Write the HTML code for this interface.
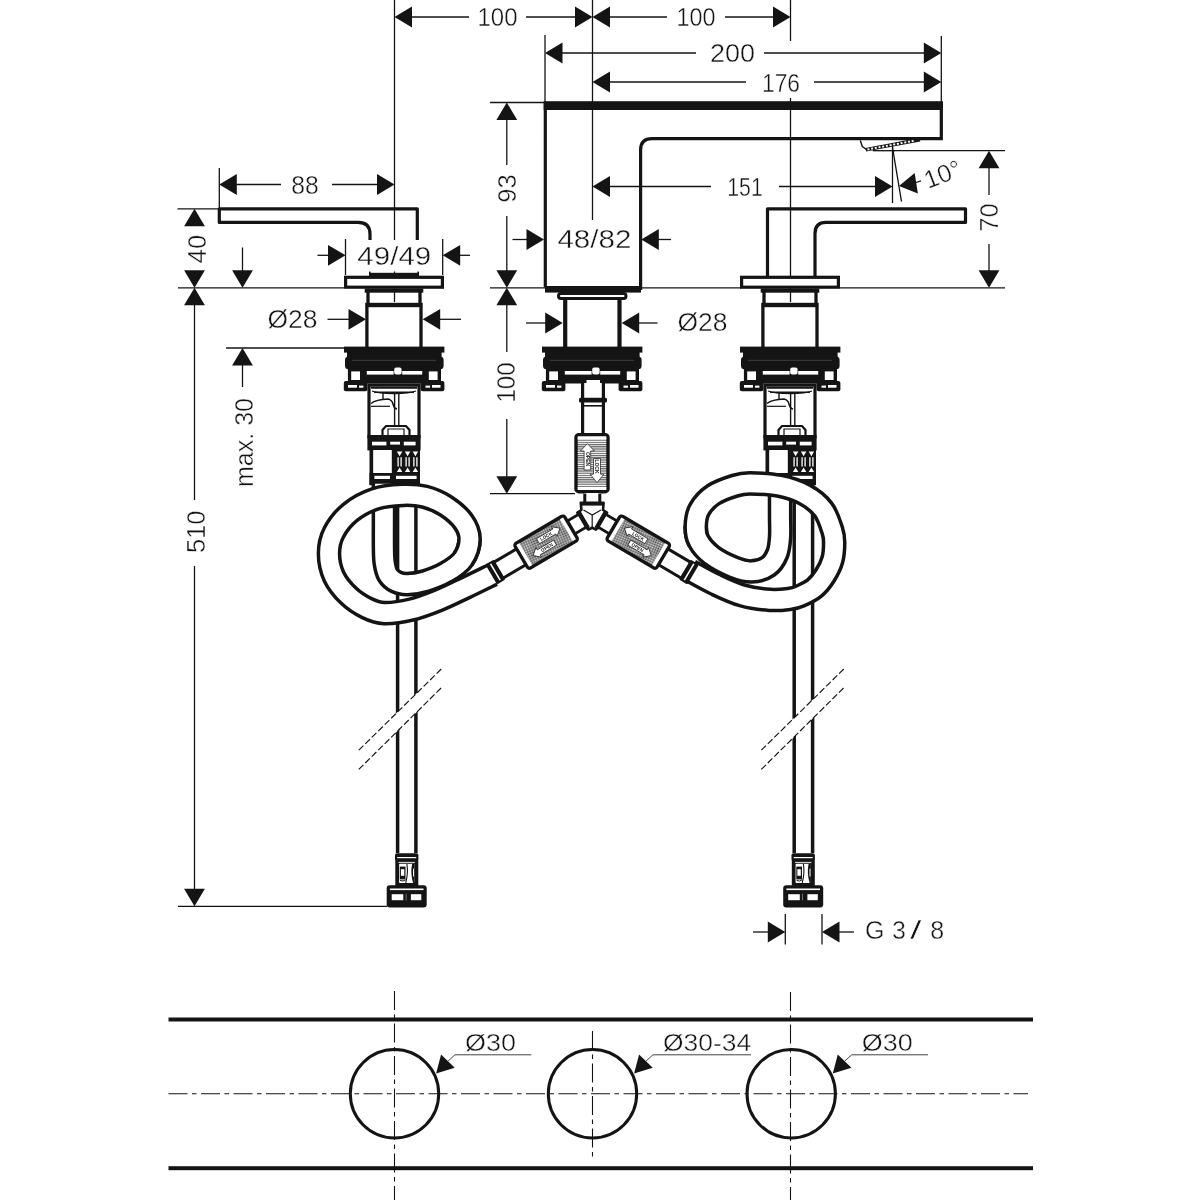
<!DOCTYPE html>
<html lang="en"><head><meta charset="utf-8"><title>Dimensional drawing</title>
<style>
html,body{margin:0;padding:0;background:#fff;}
body{width:1200px;height:1200px;overflow:hidden;}
svg{display:block;will-change:transform;}
svg text{font-family:"Liberation Sans",sans-serif;fill:#141414;stroke:#fff;stroke-width:0.4px;}
</style></head><body>
<svg width="1200" height="1200" viewBox="0 0 1200 1200">
<defs>
<pattern id="hh" width="4" height="2.4" patternUnits="userSpaceOnUse"><rect width="4" height="2.4" fill="#fff"/><rect y="0" width="4" height="1.3" fill="#555"/></pattern>
<pattern id="hx" width="2.2" height="2.2" patternUnits="userSpaceOnUse"><rect width="2.2" height="2.2" fill="#d8d8d8"/><rect width="1.1" height="1.1" fill="#444"/><rect x="1.1" y="1.1" width="1.1" height="1.1" fill="#444"/></pattern>
<pattern id="hv" width="2.2" height="4" patternUnits="userSpaceOnUse"><rect width="2.2" height="4" fill="#fff"/><rect width="1.2" height="4" fill="#666"/></pattern>
</defs>
<rect width="1200" height="1200" fill="#fff"/>
<line x1="394.50" y1="0.00" x2="394.50" y2="240.00" stroke="#141414" stroke-width="1.3" />
<line x1="394.50" y1="271.50" x2="394.50" y2="302.00" stroke="#141414" stroke-width="1.3" />
<line x1="592.50" y1="0.00" x2="592.50" y2="220.00" stroke="#141414" stroke-width="1.3" />
<line x1="790.50" y1="0.00" x2="790.50" y2="41.00" stroke="#141414" stroke-width="1.3" />
<line x1="790.50" y1="98.00" x2="790.50" y2="302.00" stroke="#141414" stroke-width="1.3" />
<line x1="178.00" y1="287.80" x2="344.00" y2="287.80" stroke="#141414" stroke-width="1.3" />
<line x1="490.00" y1="287.80" x2="545.00" y2="287.80" stroke="#141414" stroke-width="1.3" />
<line x1="642.00" y1="287.80" x2="741.00" y2="287.80" stroke="#141414" stroke-width="1.3" />
<line x1="840.00" y1="287.80" x2="1005.00" y2="287.80" stroke="#141414" stroke-width="1.3" />
<polygon points="394.50,17.00 412.00,6.60 412.00,27.40" fill="#141414"/>
<polygon points="592.50,17.00 575.00,27.40 575.00,6.60" fill="#141414"/>
<line x1="410.50" y1="17.00" x2="469.00" y2="17.00" stroke="#141414" stroke-width="1.3" />
<line x1="526.00" y1="17.00" x2="576.50" y2="17.00" stroke="#141414" stroke-width="1.3" />
<text x="497.50" y="25.70" font-size="25.5" text-anchor="middle" textLength="40" lengthAdjust="spacingAndGlyphs" >100</text>
<polygon points="592.50,17.00 610.00,6.60 610.00,27.40" fill="#141414"/>
<polygon points="790.50,17.00 773.00,27.40 773.00,6.60" fill="#141414"/>
<line x1="608.50" y1="17.00" x2="667.00" y2="17.00" stroke="#141414" stroke-width="1.3" />
<line x1="725.00" y1="17.00" x2="774.50" y2="17.00" stroke="#141414" stroke-width="1.3" />
<text x="696.00" y="25.70" font-size="25.5" text-anchor="middle" textLength="39" lengthAdjust="spacingAndGlyphs" >100</text>
<line x1="545.00" y1="35.00" x2="545.00" y2="102.00" stroke="#141414" stroke-width="1.3" />
<line x1="941.30" y1="36.00" x2="941.30" y2="140.00" stroke="#141414" stroke-width="1.3" />
<polygon points="545.00,53.00 562.50,42.60 562.50,63.40" fill="#141414"/>
<polygon points="941.30,53.00 923.80,63.40 923.80,42.60" fill="#141414"/>
<line x1="561.00" y1="53.00" x2="696.00" y2="53.00" stroke="#141414" stroke-width="1.3" />
<line x1="764.00" y1="53.00" x2="925.00" y2="53.00" stroke="#141414" stroke-width="1.3" />
<text x="732.50" y="61.50" font-size="25.5" text-anchor="middle" textLength="45" lengthAdjust="spacingAndGlyphs" >200</text>
<polygon points="592.50,82.00 610.00,71.60 610.00,92.40" fill="#141414"/>
<polygon points="941.30,82.00 923.80,92.40 923.80,71.60" fill="#141414"/>
<line x1="608.50" y1="82.00" x2="746.00" y2="82.00" stroke="#141414" stroke-width="1.3" />
<line x1="814.00" y1="82.00" x2="925.00" y2="82.00" stroke="#141414" stroke-width="1.3" />
<text x="781.00" y="91.80" font-size="25.5" text-anchor="middle" textLength="38" lengthAdjust="spacingAndGlyphs" >176</text>
<polygon points="592.50,186.50 610.00,176.10 610.00,196.90" fill="#141414"/>
<polygon points="892.50,186.50 875.00,196.90 875.00,176.10" fill="#141414"/>
<line x1="608.50" y1="186.50" x2="711.00" y2="186.50" stroke="#141414" stroke-width="1.3" />
<line x1="779.00" y1="186.50" x2="876.00" y2="186.50" stroke="#141414" stroke-width="1.3" />
<text x="745.00" y="196.20" font-size="25.5" text-anchor="middle" textLength="35.5" lengthAdjust="spacingAndGlyphs" >151</text>
<line x1="219.30" y1="168.00" x2="219.30" y2="209.00" stroke="#141414" stroke-width="1.3" />
<polygon points="219.30,184.50 236.80,174.10 236.80,194.90" fill="#141414"/>
<polygon points="394.50,184.50 377.00,194.90 377.00,174.10" fill="#141414"/>
<line x1="235.00" y1="184.50" x2="281.00" y2="184.50" stroke="#141414" stroke-width="1.3" />
<line x1="332.00" y1="184.50" x2="378.50" y2="184.50" stroke="#141414" stroke-width="1.3" />
<text x="305.00" y="193.50" font-size="25.5" text-anchor="middle" textLength="27.5" lengthAdjust="spacingAndGlyphs" >88</text>
<line x1="177.50" y1="208.80" x2="219.00" y2="208.80" stroke="#141414" stroke-width="1.3" />
<polygon points="194.50,208.80 204.90,226.30 184.10,226.30" fill="#141414"/>
<polygon points="194.50,287.80 184.10,270.30 204.90,270.30" fill="#141414"/>
<text x="205.50" y="249.00" font-size="25.5" text-anchor="middle" transform="rotate(-90 205.50 249.00)" >40</text>
<polygon points="194.50,287.80 204.90,305.30 184.10,305.30" fill="#141414"/>
<line x1="194.50" y1="304.00" x2="194.50" y2="500.00" stroke="#141414" stroke-width="1.3" />
<text x="204.60" y="531.80" font-size="25.5" text-anchor="middle" transform="rotate(-90 204.60 531.80)" >510</text>
<line x1="194.50" y1="566.00" x2="194.50" y2="890.00" stroke="#141414" stroke-width="1.3" />
<polygon points="194.50,906.30 184.10,888.80 204.90,888.80" fill="#141414"/>
<line x1="178.00" y1="906.30" x2="387.00" y2="906.30" stroke="#141414" stroke-width="1.3" />
<line x1="242.50" y1="247.50" x2="242.50" y2="272.00" stroke="#141414" stroke-width="1.3" />
<polygon points="242.50,287.80 232.10,270.30 252.90,270.30" fill="#141414"/>
<line x1="345.50" y1="239.00" x2="345.50" y2="275.00" stroke="#141414" stroke-width="1.3" />
<line x1="442.70" y1="239.00" x2="442.70" y2="275.00" stroke="#141414" stroke-width="1.3" />
<polygon points="345.50,255.30 328.00,265.70 328.00,244.90" fill="#141414"/>
<line x1="317.50" y1="255.30" x2="330.00" y2="255.30" stroke="#141414" stroke-width="1.3" />
<polygon points="442.70,255.30 460.20,244.90 460.20,265.70" fill="#141414"/>
<line x1="458.00" y1="255.30" x2="470.00" y2="255.30" stroke="#141414" stroke-width="1.3" />
<text x="394.30" y="264.50" font-size="25.5" text-anchor="middle" textLength="74" lengthAdjust="spacingAndGlyphs" >49/49</text>
<line x1="226.00" y1="348.00" x2="344.00" y2="348.00" stroke="#141414" stroke-width="1.3" />
<polygon points="242.50,348.00 252.90,365.50 232.10,365.50" fill="#141414"/>
<line x1="242.50" y1="364.00" x2="242.50" y2="387.00" stroke="#141414" stroke-width="1.3" />
<text x="252.60" y="442.50" font-size="25.5" text-anchor="middle" transform="rotate(-90 252.60 442.50)" textLength="89" lengthAdjust="spacingAndGlyphs" >max. 30</text>
<polygon points="366.00,319.30 348.50,329.70 348.50,308.90" fill="#141414"/>
<line x1="327.50" y1="319.30" x2="350.00" y2="319.30" stroke="#141414" stroke-width="1.3" />
<polygon points="422.70,319.30 440.20,308.90 440.20,329.70" fill="#141414"/>
<line x1="438.00" y1="319.30" x2="461.00" y2="319.30" stroke="#141414" stroke-width="1.3" />
<text x="292.50" y="328.00" font-size="25.5" text-anchor="middle" textLength="50" lengthAdjust="spacingAndGlyphs" >Ø28</text>
<line x1="490.00" y1="102.50" x2="544.00" y2="102.50" stroke="#141414" stroke-width="1.3" />
<polygon points="506.80,102.50 517.20,120.00 496.40,120.00" fill="#141414"/>
<line x1="506.80" y1="119.00" x2="506.80" y2="165.00" stroke="#141414" stroke-width="1.3" />
<text x="516.00" y="188.50" font-size="25.5" text-anchor="middle" transform="rotate(-90 516.00 188.50)" >93</text>
<line x1="506.80" y1="216.00" x2="506.80" y2="272.00" stroke="#141414" stroke-width="1.3" />
<polygon points="506.80,287.80 496.40,270.30 517.20,270.30" fill="#141414"/>
<polygon points="506.80,287.80 517.20,305.30 496.40,305.30" fill="#141414"/>
<line x1="506.80" y1="304.00" x2="506.80" y2="352.00" stroke="#141414" stroke-width="1.3" />
<text x="515.20" y="382.50" font-size="25.5" text-anchor="middle" transform="rotate(-90 515.20 382.50)" textLength="40" lengthAdjust="spacingAndGlyphs" >100</text>
<line x1="506.80" y1="419.00" x2="506.80" y2="477.00" stroke="#141414" stroke-width="1.3" />
<polygon points="506.80,493.70 496.40,476.20 517.20,476.20" fill="#141414"/>
<line x1="490.00" y1="493.70" x2="575.00" y2="493.70" stroke="#141414" stroke-width="1.3" />
<polygon points="544.00,239.50 526.50,249.90 526.50,229.10" fill="#141414"/>
<line x1="512.50" y1="239.50" x2="528.00" y2="239.50" stroke="#141414" stroke-width="1.3" />
<polygon points="641.30,239.50 658.80,229.10 658.80,249.90" fill="#141414"/>
<line x1="657.00" y1="239.50" x2="671.00" y2="239.50" stroke="#141414" stroke-width="1.3" />
<text x="594.40" y="248.30" font-size="25.5" text-anchor="middle" textLength="74" lengthAdjust="spacingAndGlyphs" >48/82</text>
<polygon points="562.70,323.00 545.20,333.40 545.20,312.60" fill="#141414"/>
<line x1="526.00" y1="323.00" x2="547.00" y2="323.00" stroke="#141414" stroke-width="1.3" />
<polygon points="621.70,323.00 639.20,312.60 639.20,333.40" fill="#141414"/>
<line x1="637.00" y1="323.00" x2="657.50" y2="323.00" stroke="#141414" stroke-width="1.3" />
<text x="702.50" y="331.00" font-size="25.5" text-anchor="middle" textLength="50" lengthAdjust="spacingAndGlyphs" >Ø28</text>
<line x1="893.00" y1="150.70" x2="1005.00" y2="150.70" stroke="#141414" stroke-width="1.3" />
<polygon points="989.00,150.70 999.40,168.20 978.60,168.20" fill="#141414"/>
<line x1="989.00" y1="167.00" x2="989.00" y2="195.00" stroke="#141414" stroke-width="1.3" />
<text x="998.00" y="217.50" font-size="25.5" text-anchor="middle" transform="rotate(-90 998.00 217.50)" textLength="28.5" lengthAdjust="spacingAndGlyphs" >70</text>
<line x1="989.00" y1="244.00" x2="989.00" y2="272.00" stroke="#141414" stroke-width="1.3" />
<polygon points="989.00,287.80 978.60,270.30 999.40,270.30" fill="#141414"/>
<line x1="892.50" y1="146.00" x2="892.50" y2="203.00" stroke="#141414" stroke-width="1.3" />
<line x1="892.50" y1="147.40" x2="901.50" y2="201.70" stroke="#141414" stroke-width="1.3" />
<polygon points="899.00,186.00 914.67,173.09 917.90,193.44" fill="#141414"/>
<line x1="916.00" y1="182.50" x2="921.00" y2="180.80" stroke="#141414" stroke-width="1.3" />
<text x="928.00" y="189.00" font-size="25" text-anchor="start" transform="rotate(-21 928.00 189.00)" >10°</text>
<line x1="785.30" y1="914.00" x2="785.30" y2="944.50" stroke="#141414" stroke-width="1.3" />
<line x1="822.00" y1="914.00" x2="822.00" y2="944.50" stroke="#141414" stroke-width="1.3" />
<polygon points="785.30,932.00 767.80,942.40 767.80,921.60" fill="#141414"/>
<line x1="753.00" y1="932.00" x2="770.00" y2="932.00" stroke="#141414" stroke-width="1.3" />
<polygon points="822.00,932.00 839.50,921.60 839.50,942.40" fill="#141414"/>
<line x1="838.00" y1="932.00" x2="854.00" y2="932.00" stroke="#141414" stroke-width="1.3" />
<text y="938.5" font-size="25"><tspan x="865">G</tspan><tspan x="892">3</tspan><tspan x="910" textLength="11.5" lengthAdjust="spacingAndGlyphs">/</tspan><tspan x="930.3">8</tspan></text>
<path d="M417.3,240 V208.8 H219.3 V222.4 H358 Q370,222.4 370,234 V240" fill="none" stroke="#141414" stroke-width="3.2" stroke-linejoin="round"/>
<path d="M767.5,276 V208.8 H965.5 V222.4 H826 Q815,222.4 815,233.5 V276" fill="none" stroke="#141414" stroke-width="3.2" stroke-linejoin="round"/>
<path d="M545.3,103 V287.5 M545.3,288.3 H640.6 V150 Q640.6,138.7 652,138.7 H941.3 V103" fill="none" stroke="#141414" stroke-width="3.2"/>
<rect x="543.70" y="101.20" width="399.30" height="8.80" fill="#141414" stroke="none" stroke-width="0" rx="0" />
<rect x="545.00" y="286.00" width="96.00" height="6.60" fill="#141414" stroke="none" stroke-width="0" rx="0" />
<g transform="translate(866.2,151.6) rotate(-10.6)"><rect x="0" y="-3.7" width="55" height="3.7" fill="#141414"/><rect x="1.60" y="-2.8" width="2" height="1.9" fill="#fff"/><rect x="5.35" y="-2.8" width="2" height="1.9" fill="#fff"/><rect x="9.10" y="-2.8" width="2" height="1.9" fill="#fff"/><rect x="12.85" y="-2.8" width="2" height="1.9" fill="#fff"/><rect x="16.60" y="-2.8" width="2" height="1.9" fill="#fff"/><rect x="20.35" y="-2.8" width="2" height="1.9" fill="#fff"/><rect x="24.10" y="-2.8" width="2" height="1.9" fill="#fff"/><rect x="27.85" y="-2.8" width="2" height="1.9" fill="#fff"/><rect x="31.60" y="-2.8" width="2" height="1.9" fill="#fff"/><rect x="35.35" y="-2.8" width="2" height="1.9" fill="#fff"/><rect x="39.10" y="-2.8" width="2" height="1.9" fill="#fff"/><rect x="42.85" y="-2.8" width="2" height="1.9" fill="#fff"/><rect x="46.60" y="-2.8" width="2" height="1.9" fill="#fff"/></g>
<path d="M860.3,140.5 L862.3,146.5 L866.5,149.5" fill="none" stroke="#141414" stroke-width="1.4"/>
<line x1="872.70" y1="150.70" x2="895.00" y2="150.70" stroke="#141414" stroke-width="1.3" />
<rect x="345.60" y="277.30" width="96.80" height="9.90" fill="#fff" rx="0" stroke="#141414" stroke-width="3.2"/><rect x="364.70" y="288.50" width="58.60" height="4.20" fill="#141414" rx="0" stroke="none" stroke-width="0"/><line x1="368.00" y1="292.00" x2="368.00" y2="304.00" stroke="#141414" stroke-width="3.3"/><line x1="420.00" y1="292.00" x2="420.00" y2="304.00" stroke="#141414" stroke-width="3.3"/><rect x="365.20" y="302.80" width="57.50" height="4.40" fill="#141414" rx="0" stroke="none" stroke-width="0"/><line x1="366.90" y1="307.00" x2="366.90" y2="347.00" stroke="#141414" stroke-width="3.3"/><line x1="421.00" y1="307.00" x2="421.00" y2="347.00" stroke="#141414" stroke-width="3.3"/>
<rect x="344.00" y="346.60" width="100.40" height="6.00" fill="#141414" rx="0"/><rect x="347.00" y="352.00" width="94.60" height="6.00" fill="#141414" rx="0"/><rect x="345.00" y="356.50" width="98.60" height="12.80" fill="#141414" rx="3.5"/><line x1="352" y1="360.3" x2="436" y2="360.3" stroke="#4a4a4a" stroke-width="0.8"/><rect x="347.90" y="368.00" width="15.70" height="15.00" fill="#141414" rx="0"/><rect x="351.20" y="371.40" width="8.80" height="8.60" fill="#fff" rx="0"/><rect x="425.30" y="368.00" width="15.70" height="15.00" fill="#141414" rx="0"/><rect x="428.80" y="371.40" width="8.80" height="8.60" fill="#fff" rx="0"/><rect x="363.00" y="368.00" width="63.00" height="15.50" fill="#141414" rx="0"/><rect x="366.80" y="371.00" width="26.80" height="3.60" fill="#fff" rx="0"/><rect x="402.20" y="371.00" width="20.00" height="3.60" fill="#fff" rx="0"/><rect x="394.20" y="367.60" width="7.40" height="7.00" fill="#fff" rx="2"/><rect x="343.80" y="381.00" width="23.60" height="10.20" fill="#141414" rx="2"/><rect x="420.60" y="381.00" width="23.80" height="10.20" fill="#141414" rx="2"/><rect x="348.00" y="385.00" width="9.00" height="2.70" fill="#fff" rx="0"/><rect x="359.00" y="385.60" width="4.40" height="2.10" fill="#fff" rx="0"/><rect x="425.50" y="385.60" width="4.50" height="2.10" fill="#fff" rx="0"/><rect x="432.00" y="385.00" width="8.50" height="2.70" fill="#fff" rx="0"/>
<rect x="369.00" y="385.00" width="50.00" height="52.00" fill="#fff" rx="0" stroke="#141414" stroke-width="3.2"/><line x1="371.00" y1="387.60" x2="417.00" y2="387.60" stroke="#141414" stroke-width="2.2"/><line x1="374.00" y1="392.20" x2="414.00" y2="392.20" stroke="#141414" stroke-width="1.6"/><path transform="translate(0,0)" d="M372,391 Q378,393.5 394,393.5 Q410,393.5 416,391" fill="none" stroke="#141414" stroke-width="1.3"/><line x1="394.60" y1="393.00" x2="394.60" y2="427.00" stroke="#141414" stroke-width="1.4"/><line x1="398.80" y1="393.00" x2="398.80" y2="427.00" stroke="#141414" stroke-width="1.4"/><line x1="383.00" y1="393.00" x2="383.00" y2="399.00" stroke="#141414" stroke-width="1.4"/><path transform="translate(0,0)" d="M371,403.5 Q376,399.5 388,399 Q392,400 393,404 Q394,408.5 397,409" fill="none" stroke="#141414" stroke-width="1.5"/><line x1="371.00" y1="406.30" x2="390.00" y2="406.30" stroke="#141414" stroke-width="1.2"/><path transform="translate(0,0)" d="M382.5,436 V430 L386,426 H406 L409.5,430 V436" fill="none" stroke="#141414" stroke-width="2.2"/><path transform="translate(0,0)" d="M388,436 V429 H404 V436" fill="none" stroke="#141414" stroke-width="1.2"/><rect x="367.40" y="435.00" width="53.20" height="15.40" fill="#141414" rx="0" stroke="none" stroke-width="0"/><rect x="372.00" y="441.70" width="14.40" height="3.70" fill="#fff" rx="0" stroke="none" stroke-width="0"/><rect x="390.20" y="441.70" width="9.80" height="2.90" fill="#fff" rx="0" stroke="none" stroke-width="0"/><rect x="403.80" y="441.70" width="11.80" height="3.70" fill="#fff" rx="0" stroke="none" stroke-width="0"/><rect x="369.50" y="450.00" width="3.90" height="35.00" fill="#141414" rx="0" stroke="none" stroke-width="0"/><rect x="373.40" y="450.00" width="18.40" height="23.20" fill="#fff" rx="0" stroke="none" stroke-width="0"/><rect x="391.80" y="447.00" width="28.20" height="26.20" fill="#141414" rx="0" stroke="none" stroke-width="0"/><path transform="translate(0,0)" d="M396.90000000000003,451.6 h5.4 l-2.7,4.6 z M396.90000000000003,472 h5.4 l-2.7,-4.6 z" fill="#fff"/><path transform="translate(0,0)" d="M398.1,457.2 V466.6 M401.1,457.2 V466.6" fill="none" stroke="#fff" stroke-width="1.3"/><path transform="translate(0,0)" d="M404.90000000000003,451.6 h5.4 l-2.7,4.6 z M404.90000000000003,472 h5.4 l-2.7,-4.6 z" fill="#fff"/><path transform="translate(0,0)" d="M406.1,457.2 V466.6 M409.1,457.2 V466.6" fill="none" stroke="#fff" stroke-width="1.3"/><path transform="translate(0,0)" d="M412.7,451.6 h5.4 l-2.7,4.6 z M412.7,472 h5.4 l-2.7,-4.6 z" fill="#fff"/><path transform="translate(0,0)" d="M413.9,457.2 V466.6 M416.9,457.2 V466.6" fill="none" stroke="#fff" stroke-width="1.3"/><rect x="369.50" y="473.00" width="50.50" height="12.20" fill="#141414" rx="0" stroke="none" stroke-width="0"/><rect x="374.40" y="475.80" width="15.60" height="3.20" fill="#fff" rx="0" stroke="none" stroke-width="0"/><rect x="396.00" y="475.80" width="20.60" height="3.20" fill="#fff" rx="0" stroke="none" stroke-width="0"/><rect x="372.80" y="484.00" width="9.20" height="3.00" fill="#fff" rx="0" stroke="none" stroke-width="0"/>
<rect x="741.60" y="277.30" width="96.80" height="9.90" fill="#fff" rx="0" stroke="#141414" stroke-width="3.2"/><rect x="760.70" y="288.50" width="58.60" height="4.20" fill="#141414" rx="0" stroke="none" stroke-width="0"/><line x1="764.00" y1="292.00" x2="764.00" y2="304.00" stroke="#141414" stroke-width="3.3"/><line x1="816.00" y1="292.00" x2="816.00" y2="304.00" stroke="#141414" stroke-width="3.3"/><rect x="761.20" y="302.80" width="57.50" height="4.40" fill="#141414" rx="0" stroke="none" stroke-width="0"/><line x1="762.90" y1="307.00" x2="762.90" y2="347.00" stroke="#141414" stroke-width="3.3"/><line x1="817.00" y1="307.00" x2="817.00" y2="347.00" stroke="#141414" stroke-width="3.3"/>
<rect x="740.00" y="346.60" width="100.40" height="6.00" fill="#141414" rx="0"/><rect x="743.00" y="352.00" width="94.60" height="6.00" fill="#141414" rx="0"/><rect x="741.00" y="356.50" width="98.60" height="12.80" fill="#141414" rx="3.5"/><line x1="748" y1="360.3" x2="832" y2="360.3" stroke="#4a4a4a" stroke-width="0.8"/><rect x="743.90" y="368.00" width="15.70" height="15.00" fill="#141414" rx="0"/><rect x="747.20" y="371.40" width="8.80" height="8.60" fill="#fff" rx="0"/><rect x="821.30" y="368.00" width="15.70" height="15.00" fill="#141414" rx="0"/><rect x="824.80" y="371.40" width="8.80" height="8.60" fill="#fff" rx="0"/><rect x="759.00" y="368.00" width="63.00" height="15.50" fill="#141414" rx="0"/><rect x="762.80" y="371.00" width="26.80" height="3.60" fill="#fff" rx="0"/><rect x="798.20" y="371.00" width="20.00" height="3.60" fill="#fff" rx="0"/><rect x="790.20" y="367.60" width="7.40" height="7.00" fill="#fff" rx="2"/><rect x="739.80" y="381.00" width="23.60" height="10.20" fill="#141414" rx="2"/><rect x="816.60" y="381.00" width="23.80" height="10.20" fill="#141414" rx="2"/><rect x="744.00" y="385.00" width="9.00" height="2.70" fill="#fff" rx="0"/><rect x="755.00" y="385.60" width="4.40" height="2.10" fill="#fff" rx="0"/><rect x="821.50" y="385.60" width="4.50" height="2.10" fill="#fff" rx="0"/><rect x="828.00" y="385.00" width="8.50" height="2.70" fill="#fff" rx="0"/>
<rect x="765.00" y="385.00" width="50.00" height="52.00" fill="#fff" rx="0" stroke="#141414" stroke-width="3.2"/><line x1="767.00" y1="387.60" x2="813.00" y2="387.60" stroke="#141414" stroke-width="2.2"/><line x1="770.00" y1="392.20" x2="810.00" y2="392.20" stroke="#141414" stroke-width="1.6"/><path transform="translate(396,0)" d="M372,391 Q378,393.5 394,393.5 Q410,393.5 416,391" fill="none" stroke="#141414" stroke-width="1.3"/><line x1="790.60" y1="393.00" x2="790.60" y2="427.00" stroke="#141414" stroke-width="1.4"/><line x1="794.80" y1="393.00" x2="794.80" y2="427.00" stroke="#141414" stroke-width="1.4"/><line x1="779.00" y1="393.00" x2="779.00" y2="399.00" stroke="#141414" stroke-width="1.4"/><path transform="translate(396,0)" d="M371,403.5 Q376,399.5 388,399 Q392,400 393,404 Q394,408.5 397,409" fill="none" stroke="#141414" stroke-width="1.5"/><line x1="767.00" y1="406.30" x2="786.00" y2="406.30" stroke="#141414" stroke-width="1.2"/><path transform="translate(396,0)" d="M382.5,436 V430 L386,426 H406 L409.5,430 V436" fill="none" stroke="#141414" stroke-width="2.2"/><path transform="translate(396,0)" d="M388,436 V429 H404 V436" fill="none" stroke="#141414" stroke-width="1.2"/><rect x="763.40" y="435.00" width="53.20" height="15.40" fill="#141414" rx="0" stroke="none" stroke-width="0"/><rect x="768.00" y="441.70" width="14.40" height="3.70" fill="#fff" rx="0" stroke="none" stroke-width="0"/><rect x="786.20" y="441.70" width="9.80" height="2.90" fill="#fff" rx="0" stroke="none" stroke-width="0"/><rect x="799.80" y="441.70" width="11.80" height="3.70" fill="#fff" rx="0" stroke="none" stroke-width="0"/><rect x="765.50" y="450.00" width="3.90" height="35.00" fill="#141414" rx="0" stroke="none" stroke-width="0"/><rect x="769.40" y="450.00" width="18.40" height="23.20" fill="#fff" rx="0" stroke="none" stroke-width="0"/><rect x="787.80" y="447.00" width="28.20" height="26.20" fill="#141414" rx="0" stroke="none" stroke-width="0"/><path transform="translate(396,0)" d="M396.90000000000003,451.6 h5.4 l-2.7,4.6 z M396.90000000000003,472 h5.4 l-2.7,-4.6 z" fill="#fff"/><path transform="translate(396,0)" d="M398.1,457.2 V466.6 M401.1,457.2 V466.6" fill="none" stroke="#fff" stroke-width="1.3"/><path transform="translate(396,0)" d="M404.90000000000003,451.6 h5.4 l-2.7,4.6 z M404.90000000000003,472 h5.4 l-2.7,-4.6 z" fill="#fff"/><path transform="translate(396,0)" d="M406.1,457.2 V466.6 M409.1,457.2 V466.6" fill="none" stroke="#fff" stroke-width="1.3"/><path transform="translate(396,0)" d="M412.7,451.6 h5.4 l-2.7,4.6 z M412.7,472 h5.4 l-2.7,-4.6 z" fill="#fff"/><path transform="translate(396,0)" d="M413.9,457.2 V466.6 M416.9,457.2 V466.6" fill="none" stroke="#fff" stroke-width="1.3"/><rect x="765.50" y="473.00" width="50.50" height="12.20" fill="#141414" rx="0" stroke="none" stroke-width="0"/><rect x="770.40" y="475.80" width="15.60" height="3.20" fill="#fff" rx="0" stroke="none" stroke-width="0"/><rect x="792.00" y="475.80" width="20.60" height="3.20" fill="#fff" rx="0" stroke="none" stroke-width="0"/><rect x="768.80" y="484.00" width="9.20" height="3.00" fill="#fff" rx="0" stroke="none" stroke-width="0"/>
<rect x="369.00" y="272.80" width="50.00" height="3.20" fill="#141414" stroke="none" stroke-width="0" rx="0" />
<rect x="369.00" y="271.60" width="1.60" height="1.40" fill="#141414" stroke="none" stroke-width="0" rx="0" />
<rect x="417.40" y="271.60" width="1.60" height="1.40" fill="#141414" stroke="none" stroke-width="0" rx="0" />
<rect x="558.50" y="293.60" width="67.50" height="4.80" fill="#fff" stroke="#141414" stroke-width="3.0" rx="2.4" />
<line x1="565.20" y1="299.00" x2="565.20" y2="347.00" stroke="#141414" stroke-width="4.2" />
<line x1="619.50" y1="299.00" x2="619.50" y2="347.00" stroke="#141414" stroke-width="4.2" />
<rect x="542.00" y="346.60" width="100.40" height="6.00" fill="#141414" rx="0"/><rect x="545.00" y="352.00" width="94.60" height="6.00" fill="#141414" rx="0"/><rect x="543.00" y="356.50" width="98.60" height="12.80" fill="#141414" rx="3.5"/><line x1="550" y1="360.3" x2="634" y2="360.3" stroke="#4a4a4a" stroke-width="0.8"/><rect x="545.90" y="368.00" width="15.70" height="15.00" fill="#141414" rx="0"/><rect x="549.20" y="371.40" width="8.80" height="8.60" fill="#fff" rx="0"/><rect x="623.30" y="368.00" width="15.70" height="15.00" fill="#141414" rx="0"/><rect x="626.80" y="371.40" width="8.80" height="8.60" fill="#fff" rx="0"/><rect x="561.00" y="368.00" width="63.00" height="15.50" fill="#141414" rx="0"/><rect x="564.80" y="371.00" width="26.80" height="3.60" fill="#fff" rx="0"/><rect x="600.20" y="371.00" width="20.00" height="3.60" fill="#fff" rx="0"/><rect x="592.20" y="367.60" width="7.40" height="7.00" fill="#fff" rx="2"/><rect x="541.80" y="381.00" width="23.60" height="10.20" fill="#141414" rx="2"/><rect x="618.60" y="381.00" width="23.80" height="10.20" fill="#141414" rx="2"/><rect x="546.00" y="385.00" width="9.00" height="2.70" fill="#fff" rx="0"/><rect x="557.00" y="385.60" width="4.40" height="2.10" fill="#fff" rx="0"/><rect x="623.50" y="385.60" width="4.50" height="2.10" fill="#fff" rx="0"/><rect x="630.00" y="385.00" width="8.50" height="2.70" fill="#fff" rx="0"/>
<rect x="581.00" y="383.00" width="24.00" height="52.00" fill="#fff" stroke="none" stroke-width="0" rx="0" />
<line x1="582.60" y1="383.00" x2="582.60" y2="435.00" stroke="#141414" stroke-width="3.2" />
<line x1="603.40" y1="383.00" x2="603.40" y2="435.00" stroke="#141414" stroke-width="3.2" />
<rect x="579.00" y="397.80" width="28.00" height="4.80" fill="#141414" stroke="none" stroke-width="0" rx="1.5" />
<line x1="583.00" y1="405.80" x2="603.00" y2="405.80" stroke="#141414" stroke-width="1.6" />
<rect x="586.50" y="380.00" width="13.50" height="4.00" fill="#fff" stroke="none" stroke-width="0" rx="0" />
<g transform="translate(592,433) rotate(90)"><rect x="1.7" y="-16" width="57" height="32" rx="2.8" fill="url(#hv)" stroke="#141414" stroke-width="3.4"/><rect x="3.4" y="-14.3" width="3" height="28.6" fill="#fff"/><rect x="54" y="-14.3" width="3" height="28.6" fill="#fff"/><polygon points="37.0,1.3 18.0,1.3 18.0,-2.4 10.7,4.6 18.0,11.6 18.0,7.9 37.0,7.9" fill="#fff" stroke="#141414" stroke-width="0.7" stroke-linejoin="round"/><polygon points="25.5,-8.5 41.2,-8.5 41.2,-11.8 49.7,-5.0 41.2,1.8 41.2,-1.5 25.5,-1.5" fill="#fff" stroke="#141414" stroke-width="0.7" stroke-linejoin="round"/><text x="26" y="6.3" font-size="5" font-weight="bold" text-anchor="middle" style="stroke:none">OPEN</text><text x="33.5" y="-3.3" font-size="5" font-weight="bold" text-anchor="middle" style="stroke:none">LOCK</text></g>
<rect x="584.00" y="493.00" width="16.60" height="11.00" fill="#fff" stroke="none" stroke-width="0" rx="0" />
<line x1="584.80" y1="493.50" x2="584.80" y2="504.00" stroke="#141414" stroke-width="3" />
<line x1="599.80" y1="493.50" x2="599.80" y2="504.00" stroke="#141414" stroke-width="3" />
<path d="M580.8,502.8 H603.6 L603,510 L607,512.5 L596,529.5 L592.2,527.8 L588.4,529.5 L577.4,512.5 L581.4,510 Z" fill="#fff" stroke="#141414" stroke-width="2.6" stroke-linejoin="round"/>
<rect x="580.60" y="502.40" width="23.20" height="3.20" fill="#141414" stroke="none" stroke-width="0" rx="0" />
<path d="M583.5,510 L592.2,515 L601,510 M592.2,515 V527.5" fill="none" stroke="#141414" stroke-width="1.2"/>
<line x1="397.60" y1="484.00" x2="397.60" y2="853.00" stroke="#141414" stroke-width="3.5" />
<line x1="415.90" y1="484.00" x2="415.90" y2="853.00" stroke="#141414" stroke-width="3.5" />
<line x1="794.20" y1="484.00" x2="794.20" y2="853.00" stroke="#141414" stroke-width="3.5" />
<line x1="812.60" y1="484.00" x2="812.60" y2="853.00" stroke="#141414" stroke-width="3.5" />
<path d="M383.97,483.83 C383.97,489.03 383.97,504.31 383.97,515.00 C383.97,525.69 383.85,540.06 383.97,548.00 C384.09,555.95 384.03,558.24 384.70,562.67 C385.37,567.10 386.08,571.38 388.00,574.58 C389.93,577.79 393.04,580.33 396.25,581.92 C399.46,583.51 402.51,584.21 407.25,584.12 C411.99,584.03 418.10,583.35 424.67,581.37 C431.24,579.38 440.25,575.93 446.67,572.20 C453.08,568.47 459.35,564.56 463.17,559.00 C466.99,553.44 469.58,545.10 469.58,538.83" fill="none" stroke="#141414" stroke-width="24.7"/>
<path d="M383.97,483.83 C383.97,489.03 383.97,504.31 383.97,515.00 C383.97,525.69 383.85,540.06 383.97,548.00 C384.09,555.95 384.03,558.24 384.70,562.67 C385.37,567.10 386.08,571.38 388.00,574.58 C389.93,577.79 393.04,580.33 396.25,581.92 C399.46,583.51 402.51,584.21 407.25,584.12 C411.99,584.03 418.10,583.35 424.67,581.37 C431.24,579.38 440.25,575.93 446.67,572.20 C453.08,568.47 459.35,564.56 463.17,559.00 C466.99,553.44 469.58,545.10 469.58,538.83" fill="none" stroke="#fff" stroke-width="17.7"/>
<path d="M463.17,559.00 C466.99,553.44 469.58,545.10 469.58,538.83 C469.58,532.57 467.14,526.92 463.17,521.42 C459.20,515.92 452.17,509.96 445.75,505.83 C439.33,501.71 431.85,498.50 424.67,496.67 C417.49,494.83 410.92,494.47 402.67,494.83 C394.42,495.20 383.88,495.96 375.17,498.87 C366.46,501.77 357.29,506.66 350.42,512.25 C343.54,517.84 337.49,525.54 333.92,532.42 C330.34,539.29 328.97,546.17 328.97,553.50 C328.97,560.83 330.65,569.39 333.92,576.42 C337.19,583.45 343.08,590.38 348.58,595.67 C354.08,600.95 360.96,605.23 366.92,608.13 C372.88,611.04 376.85,612.87 384.33,613.08 C391.82,613.30 402.82,611.56 411.83,609.42 C420.85,607.28 429.56,603.83 438.42,600.25 C447.28,596.68 455.99,592.25 465.00,587.97 C474.02,583.69 487.92,576.81 492.50,574.58" fill="none" stroke="#141414" stroke-width="24.7"/>
<path d="M446.67,572.20 C453.08,568.47 459.35,564.56 463.17,559.00 C466.99,553.44 469.58,545.10 469.58,538.83 C469.58,532.57 467.14,526.92 463.17,521.42 C459.20,515.92 452.17,509.96 445.75,505.83 C439.33,501.71 431.85,498.50 424.67,496.67 C417.49,494.83 410.92,494.47 402.67,494.83 C394.42,495.20 383.88,495.96 375.17,498.87 C366.46,501.77 357.29,506.66 350.42,512.25 C343.54,517.84 337.49,525.54 333.92,532.42 C330.34,539.29 328.97,546.17 328.97,553.50 C328.97,560.83 330.65,569.39 333.92,576.42 C337.19,583.45 343.08,590.38 348.58,595.67 C354.08,600.95 360.96,605.23 366.92,608.13 C372.88,611.04 376.85,612.87 384.33,613.08 C391.82,613.30 402.82,611.56 411.83,609.42 C420.85,607.28 429.56,603.83 438.42,600.25 C447.28,596.68 455.99,592.25 465.00,587.97 C474.02,583.69 487.92,576.81 492.50,574.58" fill="none" stroke="#fff" stroke-width="17.7"/>
<path d="M780.08,483.83 C780.08,489.03 780.08,506.14 780.08,515.00 C780.08,523.86 780.54,530.58 780.08,537.00 C779.63,543.42 779.32,548.61 777.33,553.50 C775.35,558.39 772.45,563.34 768.17,566.33 C763.89,569.33 757.47,571.31 751.67,571.47 C745.86,571.62 740.06,569.94 733.33,567.25 C726.61,564.56 717.14,559.76 711.33,555.33 C705.53,550.90 701.10,545.56 698.50,540.67 C695.90,535.78 695.60,531.20 695.75,526.00" fill="none" stroke="#141414" stroke-width="24.7"/>
<path d="M780.08,483.83 C780.08,489.03 780.08,506.14 780.08,515.00 C780.08,523.86 780.54,530.58 780.08,537.00 C779.63,543.42 779.32,548.61 777.33,553.50 C775.35,558.39 772.45,563.34 768.17,566.33 C763.89,569.33 757.47,571.31 751.67,571.47 C745.86,571.62 740.06,569.94 733.33,567.25 C726.61,564.56 717.14,559.76 711.33,555.33 C705.53,550.90 701.10,545.56 698.50,540.67 C695.90,535.78 695.60,531.20 695.75,526.00" fill="none" stroke="#fff" stroke-width="17.7"/>
<path d="M698.50,540.67 C695.90,535.78 695.60,531.20 695.75,526.00 C695.90,520.81 696.51,514.69 699.42,509.50 C702.32,504.31 707.21,498.81 713.17,494.83 C719.13,490.86 729.06,487.56 735.17,485.67 C741.28,483.77 742.50,483.47 749.83,483.47 C757.17,483.47 770.00,483.83 779.17,485.67 C788.33,487.50 797.50,490.49 804.83,494.47 C812.17,498.44 818.58,503.48 823.17,509.50 C827.75,515.52 830.50,525.08 832.33,530.58 C834.17,536.08 834.17,537.61 834.17,542.50 C834.17,547.39 833.86,554.42 832.33,559.92 C830.81,565.42 828.00,570.80 825.00,575.50 C822.01,580.21 818.58,584.70 814.37,588.15 C810.15,591.60 803.73,594.45 799.70,596.22 C795.67,597.99 795.12,598.17 790.17,598.78 C785.22,599.40 777.95,600.43 770.00,599.88 C762.06,599.33 751.67,598.11 742.50,595.48 C733.33,592.86 723.71,588.21 715.00,584.12 C706.29,580.02 694.38,573.12 690.25,570.92" fill="none" stroke="#141414" stroke-width="24.7"/>
<path d="M711.33,555.33 C705.53,550.90 701.10,545.56 698.50,540.67 C695.90,535.78 695.60,531.20 695.75,526.00 C695.90,520.81 696.51,514.69 699.42,509.50 C702.32,504.31 707.21,498.81 713.17,494.83 C719.13,490.86 729.06,487.56 735.17,485.67 C741.28,483.77 742.50,483.47 749.83,483.47 C757.17,483.47 770.00,483.83 779.17,485.67 C788.33,487.50 797.50,490.49 804.83,494.47 C812.17,498.44 818.58,503.48 823.17,509.50 C827.75,515.52 830.50,525.08 832.33,530.58 C834.17,536.08 834.17,537.61 834.17,542.50 C834.17,547.39 833.86,554.42 832.33,559.92 C830.81,565.42 828.00,570.80 825.00,575.50 C822.01,580.21 818.58,584.70 814.37,588.15 C810.15,591.60 803.73,594.45 799.70,596.22 C795.67,597.99 795.12,598.17 790.17,598.78 C785.22,599.40 777.95,600.43 770.00,599.88 C762.06,599.33 751.67,598.11 742.50,595.48 C733.33,592.86 723.71,588.21 715.00,584.12 C706.29,580.02 694.38,573.12 690.25,570.92" fill="none" stroke="#fff" stroke-width="17.7"/>
<g transform="translate(592.2,515) rotate(149.5)"><rect x="9.5" y="-7.4" width="15" height="14.8" fill="#fff" stroke="#141414" stroke-width="2.8"/><line x1="10.8" y1="-9.6" x2="10.8" y2="9.6" stroke="#141414" stroke-width="3.6"/><rect x="80" y="-9.2" width="29" height="18.4" fill="#fff" stroke="#141414" stroke-width="3"/><rect x="107.6" y="-11.6" width="9.6" height="23.2" rx="1.5" fill="#141414"/><rect x="111.6" y="-9.4" width="1.6" height="18.8" fill="#fff"/><g transform="translate(24,0)"><rect x="0.7" y="-14.3" width="57.6" height="28.6" rx="2.5" fill="url(#hx)" stroke="#141414" stroke-width="3.4"/><rect x="2.4" y="-12.6" width="3.6" height="25.2" fill="#fff"/><rect x="53" y="-12.6" width="3.6" height="25.2" fill="#fff"/><polygon points="36.0,2.1 17.0,2.1 17.0,-0.6 10.5,5.0 17.0,10.6 17.0,7.9 36.0,7.9" fill="#fff" stroke="#141414" stroke-width="0.7" stroke-linejoin="round"/><polygon points="22.0,-7.9 41.0,-7.9 41.0,-10.6 47.5,-5.0 41.0,0.6 41.0,-2.1 22.0,-2.1" fill="#fff" stroke="#141414" stroke-width="0.7" stroke-linejoin="round"/><text x="26.5" y="6.6" font-size="4.6" font-weight="bold" text-anchor="middle" style="stroke:none" transform="rotate(180 26.5 5.0)">LOCK</text><text x="31.5" y="-3.4" font-size="4.6" font-weight="bold" text-anchor="middle" style="stroke:none" transform="rotate(180 31.5 -5.0)">OPEN</text></g></g>
<g transform="translate(592.2,515) rotate(30.5)"><rect x="9.5" y="-7.4" width="15" height="14.8" fill="#fff" stroke="#141414" stroke-width="2.8"/><line x1="10.8" y1="-9.6" x2="10.8" y2="9.6" stroke="#141414" stroke-width="3.6"/><rect x="80" y="-9.2" width="29" height="18.4" fill="#fff" stroke="#141414" stroke-width="3"/><rect x="107.6" y="-11.6" width="9.6" height="23.2" rx="1.5" fill="#141414"/><rect x="111.6" y="-9.4" width="1.6" height="18.8" fill="#fff"/><g transform="translate(24,0)"><rect x="0.7" y="-14.3" width="57.6" height="28.6" rx="2.5" fill="url(#hx)" stroke="#141414" stroke-width="3.4"/><rect x="2.4" y="-12.6" width="3.6" height="25.2" fill="#fff"/><rect x="53" y="-12.6" width="3.6" height="25.2" fill="#fff"/><polygon points="36.0,-7.9 17.0,-7.9 17.0,-10.6 10.5,-5.0 17.0,0.6 17.0,-2.1 36.0,-2.1" fill="#fff" stroke="#141414" stroke-width="0.7" stroke-linejoin="round"/><polygon points="22.0,2.1 41.0,2.1 41.0,-0.6 47.5,5.0 41.0,10.6 41.0,7.9 22.0,7.9" fill="#fff" stroke="#141414" stroke-width="0.7" stroke-linejoin="round"/><text x="26.5" y="-3.4" font-size="4.6" font-weight="bold" text-anchor="middle" style="stroke:none">LOCK</text><text x="31.5" y="6.6" font-size="4.6" font-weight="bold" text-anchor="middle" style="stroke:none">OPEN</text></g></g>
<polygon points="358.8,750.2 442.5,667.8 442.5,686.6 358.8,769.4" fill="#fff"/>
<line x1="358.8" y1="750.2" x2="442.5" y2="667.8" stroke="#141414" stroke-width="1.15" stroke-dasharray="6.5 2.6"/>
<line x1="358.8" y1="769.4" x2="442.5" y2="686.6" stroke="#141414" stroke-width="1.15" stroke-dasharray="6.5 2.6"/>
<polygon points="761.3,750.2 845,667.8 845,686.6 761.3,769.4" fill="#fff"/>
<line x1="761.3" y1="750.2" x2="845" y2="667.8" stroke="#141414" stroke-width="1.15" stroke-dasharray="6.5 2.6"/>
<line x1="761.3" y1="769.4" x2="845" y2="686.6" stroke="#141414" stroke-width="1.15" stroke-dasharray="6.5 2.6"/>
<rect x="395.00" y="853.30" width="23.40" height="8.50" fill="#141414" stroke="none" stroke-width="0" rx="2" />
<rect x="397.20" y="857.00" width="19.00" height="1.20" fill="#fff" stroke="none" stroke-width="0" rx="0" />
<rect x="395.30" y="861.00" width="23.00" height="25.00" fill="#141414" stroke="none" stroke-width="0" rx="0" />
<rect x="399.10" y="863.80" width="15.20" height="19.20" fill="#fff" stroke="none" stroke-width="0" rx="0.8" />
<rect x="398.50" y="861.90" width="16.40" height="0.90" fill="#fff" stroke="none" stroke-width="0" rx="0" />
<rect x="399.80" y="866.60" width="5.70" height="12.80" fill="#141414" stroke="none" stroke-width="0" rx="0" />
<rect x="400.90" y="869.20" width="3.40" height="6.60" fill="#fff" stroke="none" stroke-width="0" rx="0" />
<path d="M400.09999999999997,880.4 q3,1.6 5.6,-0.6" fill="none" stroke="#141414" stroke-width="1"/>
<path d="M406.9,863.8 q1.5,9.6 -1.2,19.2" fill="none" stroke="#141414" stroke-width="1.1"/>
<path d="M412.09999999999997,863.8 q-1.9,9.6 1,19.2 H414.4 V863.8 Z" fill="#141414"/>
<rect x="413.00" y="868.50" width="1.00" height="8.00" fill="#fff" stroke="none" stroke-width="0" rx="0.5" />
<rect x="386.70" y="885.20" width="40.00" height="22.40" fill="#141414" stroke="none" stroke-width="0" rx="3" />
<rect x="389.90" y="888.50" width="33.60" height="1.60" fill="#fff" stroke="none" stroke-width="0" rx="0" />
<rect x="391.70" y="894.20" width="11.60" height="6.00" fill="#fff" stroke="none" stroke-width="0" rx="0" />
<rect x="410.90" y="894.20" width="10.40" height="6.00" fill="#fff" stroke="none" stroke-width="0" rx="0" />
<rect x="405.70" y="893.80" width="0.80" height="6.60" fill="#888" stroke="none" stroke-width="0" rx="0" />
<rect x="791.50" y="853.30" width="23.40" height="8.50" fill="#141414" stroke="none" stroke-width="0" rx="2" />
<rect x="793.70" y="857.00" width="19.00" height="1.20" fill="#fff" stroke="none" stroke-width="0" rx="0" />
<rect x="791.80" y="861.00" width="23.00" height="25.00" fill="#141414" stroke="none" stroke-width="0" rx="0" />
<rect x="795.60" y="863.80" width="15.20" height="19.20" fill="#fff" stroke="none" stroke-width="0" rx="0.8" />
<rect x="795.00" y="861.90" width="16.40" height="0.90" fill="#fff" stroke="none" stroke-width="0" rx="0" />
<rect x="796.30" y="866.60" width="5.70" height="12.80" fill="#141414" stroke="none" stroke-width="0" rx="0" />
<rect x="797.40" y="869.20" width="3.40" height="6.60" fill="#fff" stroke="none" stroke-width="0" rx="0" />
<path d="M796.6,880.4 q3,1.6 5.6,-0.6" fill="none" stroke="#141414" stroke-width="1"/>
<path d="M803.4000000000001,863.8 q1.5,9.6 -1.2,19.2" fill="none" stroke="#141414" stroke-width="1.1"/>
<path d="M808.6,863.8 q-1.9,9.6 1,19.2 H810.9000000000001 V863.8 Z" fill="#141414"/>
<rect x="809.50" y="868.50" width="1.00" height="8.00" fill="#fff" stroke="none" stroke-width="0" rx="0.5" />
<rect x="783.20" y="885.20" width="40.00" height="22.40" fill="#141414" stroke="none" stroke-width="0" rx="3" />
<rect x="786.40" y="888.50" width="33.60" height="1.60" fill="#fff" stroke="none" stroke-width="0" rx="0" />
<rect x="788.20" y="894.20" width="11.60" height="6.00" fill="#fff" stroke="none" stroke-width="0" rx="0" />
<rect x="807.40" y="894.20" width="10.40" height="6.00" fill="#fff" stroke="none" stroke-width="0" rx="0" />
<rect x="802.20" y="893.80" width="0.80" height="6.60" fill="#888" stroke="none" stroke-width="0" rx="0" />
<rect x="168.50" y="1017.50" width="864.50" height="4.00" fill="#141414" stroke="none" stroke-width="0" rx="0" />
<rect x="168.50" y="1166.20" width="864.50" height="4.00" fill="#141414" stroke="none" stroke-width="0" rx="0" />
<line x1="168.5" y1="1093.7" x2="1028" y2="1093.7" stroke="#141414" stroke-width="1.1" stroke-dasharray="19 4.5 4.5 4.5"/>
<line x1="394.5" y1="991" x2="394.5" y2="1200" stroke="#141414" stroke-width="1.1" stroke-dasharray="19 4.5 4.5 4.5"/>
<line x1="592.5" y1="1031" x2="592.5" y2="1158" stroke="#141414" stroke-width="1.1" stroke-dasharray="19 4.5 4.5 4.5"/>
<line x1="790.5" y1="992" x2="790.5" y2="1200" stroke="#141414" stroke-width="1.1" stroke-dasharray="19 4.5 4.5 4.5"/>
<circle cx="394.5" cy="1093.7" r="44.2" fill="none" stroke="#141414" stroke-width="3"/>
<path d="M448.1,1061.0 L455.0,1054.8 H531.3" fill="none" stroke="#444" stroke-width="1"/>
<polygon points="436.10,1073.40 441.08,1054.57 454.74,1067.77" fill="#141414"/>
<text x="465.10" y="1051.30" font-size="24" text-anchor="start" textLength="51" lengthAdjust="spacingAndGlyphs" >Ø30</text>
<circle cx="592.5" cy="1093.7" r="44.2" fill="none" stroke="#141414" stroke-width="3"/>
<path d="M646.1,1061.0 L653.0,1054.8 H751" fill="none" stroke="#444" stroke-width="1"/>
<polygon points="634.10,1073.40 639.08,1054.57 652.74,1067.77" fill="#141414"/>
<text x="663.10" y="1051.30" font-size="24" text-anchor="start" textLength="88" lengthAdjust="spacingAndGlyphs" >Ø30-34</text>
<circle cx="791.2" cy="1093.7" r="44.2" fill="none" stroke="#141414" stroke-width="3"/>
<path d="M844.8000000000001,1061.0 L851.7,1054.8 H928" fill="none" stroke="#444" stroke-width="1"/>
<polygon points="832.80,1073.40 837.78,1054.57 851.44,1067.77" fill="#141414"/>
<text x="861.80" y="1051.30" font-size="24" text-anchor="start" textLength="51" lengthAdjust="spacingAndGlyphs" >Ø30</text>
</svg>
</body></html>
